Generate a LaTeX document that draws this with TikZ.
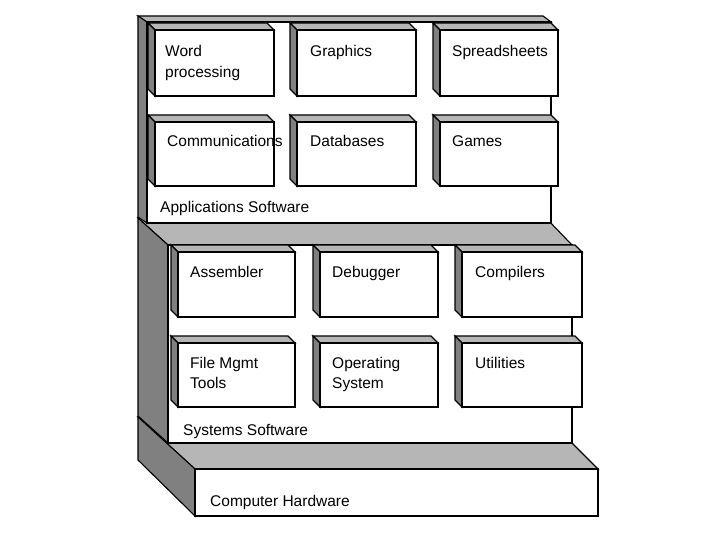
\documentclass[tikz,border=0pt]{standalone}
\usepackage{fontspec}
\setmainfont{Liberation Sans}
\definecolor{sidegray}{RGB}{128,128,128}
\definecolor{dotgray}{RGB}{182,182,182}
\tikzset{
  edge/.style={draw=black, line width=1.1pt, line join=miter},
  side/.style={edge, fill=sidegray},
  topf/.style={edge, fill=dotgray},
  face/.style={edge, fill=white},
  bface/.style={draw=black, line width=1.6pt, fill=white},
  lbl/.style={anchor=base west, inner sep=0pt, font=\fontsize{15.5}{18}\selectfont},
}
\newcommand\cubebox[4]{%
  \path[topf] (#1-7,#2-7) -- (#3-7,#2-7) -- (#3,#2) -- (#1,#2) -- cycle;
  \path[side] (#1-7,#2-7) -- (#1,#2) -- (#1,#4) -- (#1-7,#4-7) -- cycle;
  \path[bface] (#1,#2) rectangle (#3,#4);
}
\begin{document}
\begin{tikzpicture}[x=1pt,y=-1pt]
\useasboundingbox (0,0) rectangle (720,540);
% ---- Tier 3: Computer Hardware
\path[topf] (138,417) -- (546,417) -- (598,469) -- (195,469) -- cycle;
\path[side] (138,417) -- (195,469) -- (195,516) -- (138,460) -- cycle;
\path[bface] (195,469) rectangle (598,516);
% ---- Tier 2: Systems Software
\path[topf] (138,218) -- (546,218) -- (572,245) -- (168,245) -- cycle;
\path[side] (138,218) -- (168,245) -- (168,443) -- (138,416) -- cycle;
\path[face] (168,245) rectangle (572,443);
% ---- Tier 1: Applications Software
\path[topf] (138,16) -- (543,16) -- (551,22) -- (147,22) -- cycle;
\path[side] (138,16) -- (147,22) -- (147,223) -- (138,217) -- cycle;
\path[face] (147,22) rectangle (551,223);
% ---- boxes tier 1
\cubebox{155}{30}{274}{96}
\cubebox{297}{30}{416}{96}
\cubebox{440}{30}{558}{96}
\cubebox{155}{122}{274}{186}
\cubebox{297}{122}{416}{186}
\cubebox{440}{122}{558}{186}
% ---- boxes tier 2
\cubebox{178}{252}{295}{317}
\cubebox{320}{252}{438}{317}
\cubebox{462}{252}{582}{317}
\cubebox{178}{343}{295}{407}
\cubebox{320}{343}{438}{407}
\cubebox{462}{343}{582}{407}
% ---- labels
\node[lbl] (wp1) at (165,57) {Word};
\node[lbl] (wp2) at (165,78) {processing};
\node[lbl] (gr) at (310,57) {Graphics};
\node[lbl] (ss) at (452,57) {Spreadsheets};
\node[lbl] (cm) at (167,147) {Communications};
\node[lbl] (db) at (310,147) {Databases};
\node[lbl] (gm) at (452,147) {Games};
\node[lbl] (apps) at (160,213) {Applications Software};
\node[lbl] (as) at (190,277) {Assembler};
\node[lbl] (dbg) at (332,277) {Debugger};
\node[lbl] (cp) at (475,277) {Compilers};
\node[lbl] (fm1) at (190,368) {File Mgmt};
\node[lbl] (fm2) at (190,388) {Tools};
\node[lbl] (os1) at (332,368) {Operating};
\node[lbl] (os2) at (332,388) {System};
\node[lbl] (ut) at (475,368) {Utilities};
\node[lbl] (sys) at (183,435) {Systems Software};
\node[lbl] (hw) at (210,506) {Computer Hardware};
\end{tikzpicture}
\end{document}
